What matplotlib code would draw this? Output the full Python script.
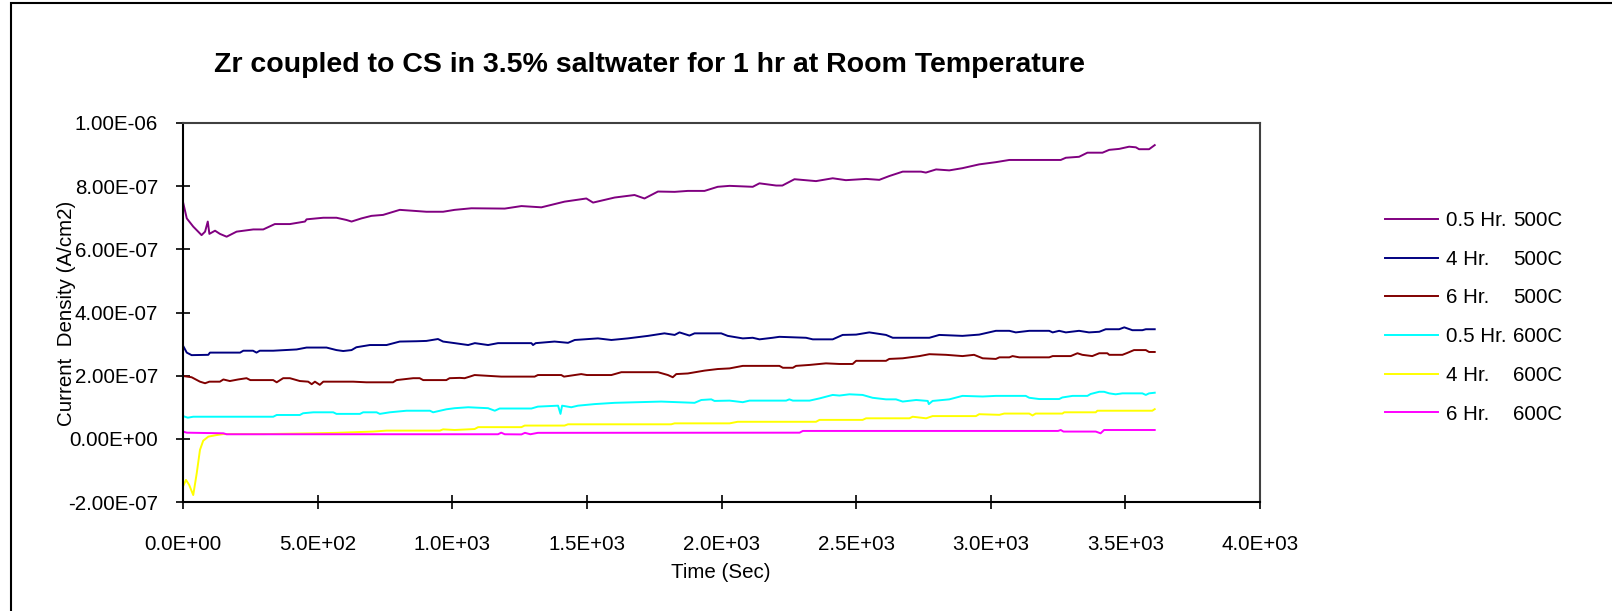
import numpy as np
import matplotlib
matplotlib.use("Agg")
import matplotlib.pyplot as plt
from matplotlib.patches import Rectangle

plt.rcParams['font.family'] = ['Liberation Sans', 'DejaVu Sans']

# current density values are given in units of 1e-7 A/cm2
t_05h_500 = [0, 14, 38, 69, 82, 92, 98, 119, 137, 162, 199, 261, 298, 341, 397, 453, 459, 521, 570, 607,
             626, 663, 700, 743, 805, 855, 904, 966, 1009, 1071, 1195, 1257, 1331, 1417, 1498, 1523, 1603,
             1677, 1714, 1764, 1826, 1875, 1937, 1986, 2030, 2116, 2141, 2203, 2226, 2271, 2351, 2413,
             2462, 2537, 2586, 2623, 2673, 2741, 2759, 2797, 2846, 2895, 2957, 3019, 3069, 3260, 3279,
             3328, 3359, 3415, 3440, 3477, 3514, 3539, 3551, 3588, 3609]
i_05h_500 = [7.50, 6.98, 6.72, 6.45, 6.56, 6.88, 6.49, 6.59, 6.49, 6.40, 6.56, 6.63, 6.63, 6.80, 6.80, 6.88,
             6.95, 7.00, 7.00, 6.93, 6.88, 6.98, 7.06, 7.09, 7.25, 7.22, 7.19, 7.19, 7.25, 7.30, 7.29, 7.37,
             7.33, 7.51, 7.61, 7.48, 7.64, 7.72, 7.61, 7.83, 7.82, 7.85, 7.85, 7.98, 8.01, 7.98, 8.09, 8.02,
             8.02, 8.22, 8.16, 8.25, 8.19, 8.23, 8.20, 8.32, 8.46, 8.46, 8.43, 8.53, 8.50, 8.57, 8.69, 8.76,
             8.83, 8.83, 8.90, 8.93, 9.06, 9.06, 9.15, 9.18, 9.25, 9.23, 9.17, 9.17, 9.30]

t_4h_500 = [0, 14, 32, 94, 100, 212, 224, 260, 273, 285, 335, 422, 459, 533, 570, 595, 626, 644, 694, 756,
            805, 867, 904, 947, 966, 1009, 1059, 1084, 1133, 1170, 1294, 1300, 1310, 1380, 1430, 1455, 1541,
            1591, 1652, 1727, 1788, 1826, 1844, 1881, 1900, 1999, 2023, 2079, 2116, 2141, 2190, 2215, 2314,
            2339, 2413, 2450, 2500, 2549, 2611, 2636, 2772, 2809, 2895, 2957, 3019, 3069, 3093, 3143, 3217,
            3230, 3254, 3279, 3328, 3365, 3403, 3427, 3477, 3496, 3526, 3563, 3576, 3609]
i_4h_500 = [2.95, 2.73, 2.65, 2.66, 2.73, 2.73, 2.79, 2.79, 2.73, 2.79, 2.79, 2.83, 2.89, 2.89, 2.81, 2.78,
            2.81, 2.90, 2.97, 2.97, 3.08, 3.09, 3.10, 3.16, 3.08, 3.03, 2.97, 3.03, 2.97, 3.03, 3.03, 2.97,
            3.03, 3.08, 3.04, 3.13, 3.18, 3.13, 3.18, 3.26, 3.34, 3.29, 3.37, 3.27, 3.34, 3.34, 3.26, 3.18,
            3.20, 3.15, 3.20, 3.23, 3.20, 3.15, 3.15, 3.29, 3.30, 3.37, 3.29, 3.20, 3.20, 3.29, 3.26, 3.30,
            3.42, 3.42, 3.37, 3.42, 3.42, 3.37, 3.42, 3.37, 3.42, 3.37, 3.39, 3.47, 3.47, 3.53, 3.44, 3.44,
            3.47, 3.47]

t_6h_500 = [0, 32, 63, 82, 98, 137, 150, 174, 205, 236, 250, 335, 348, 372, 397, 434, 465, 478, 490, 508,
            521, 632, 681, 780, 793, 855, 879, 892, 978, 990, 1028, 1046, 1065, 1083, 1182, 1306, 1318, 1405,
            1415, 1479, 1500, 1591, 1628, 1764, 1801, 1819, 1832, 1875, 1937, 1986, 2030, 2079, 2215, 2228,
            2265, 2277, 2327, 2388, 2438, 2487, 2500, 2611, 2623, 2673, 2735, 2772, 2834, 2895, 2938, 2970,
            3019, 3032, 3069, 3081, 3106, 3217, 3230, 3297, 3322, 3340, 3377, 3403, 3433, 3440, 3489, 3507,
            3532, 3576, 3588, 3609]
i_6h_500 = [1.99, 1.95, 1.81, 1.76, 1.81, 1.81, 1.88, 1.83, 1.88, 1.92, 1.86, 1.86, 1.79, 1.92, 1.92, 1.83,
            1.81, 1.73, 1.81, 1.71, 1.81, 1.81, 1.79, 1.79, 1.86, 1.92, 1.92, 1.86, 1.86, 1.92, 1.93, 1.92,
            1.97, 2.02, 1.97, 1.97, 2.02, 2.02, 1.97, 2.05, 2.02, 2.02, 2.11, 2.11, 2.02, 1.95, 2.05, 2.07,
            2.16, 2.21, 2.23, 2.31, 2.31, 2.25, 2.25, 2.31, 2.34, 2.39, 2.37, 2.37, 2.47, 2.47, 2.53, 2.55,
            2.62, 2.68, 2.66, 2.62, 2.66, 2.55, 2.53, 2.58, 2.58, 2.62, 2.58, 2.58, 2.62, 2.62, 2.71, 2.66,
            2.62, 2.71, 2.71, 2.66, 2.66, 2.72, 2.81, 2.81, 2.75, 2.75]

t_05h_600 = [0, 18, 38, 335, 348, 434, 446, 484, 558, 570, 657, 669, 719, 731, 768, 830, 917, 929, 978, 1009,
             1059, 1133, 1158, 1176, 1294, 1318, 1393, 1402, 1408, 1442, 1467, 1529, 1603, 1776, 1900, 1925,
             1962, 1974, 2030, 2079, 2104, 2240, 2252, 2265, 2327, 2364, 2413, 2438, 2475, 2524, 2561, 2611,
             2648, 2673, 2723, 2766, 2770, 2784, 2846, 2895, 2970, 3019, 3130, 3143, 3180, 3254, 3266, 3304,
             3359, 3371, 3403, 3421, 3440, 3464, 3489, 3563, 3576, 3588, 3609]
i_05h_600 = [0.72, 0.67, 0.70, 0.70, 0.755, 0.755, 0.81, 0.84, 0.84, 0.79, 0.79, 0.84, 0.84, 0.79, 0.84, 0.89,
             0.89, 0.84, 0.935, 0.97, 1.00, 0.97, 0.89, 0.96, 0.96, 1.02, 1.05, 0.79, 1.05, 1.00, 1.05, 1.10,
             1.14, 1.18, 1.14, 1.23, 1.25, 1.20, 1.21, 1.16, 1.21, 1.21, 1.25, 1.21, 1.21, 1.28, 1.39, 1.37,
             1.41, 1.39, 1.30, 1.25, 1.25, 1.18, 1.23, 1.20, 1.10, 1.20, 1.25, 1.36, 1.34, 1.36, 1.36, 1.30,
             1.26, 1.26, 1.31, 1.36, 1.36, 1.42, 1.49, 1.49, 1.44, 1.41, 1.44, 1.44, 1.39, 1.44, 1.46]

t_4h_600 = [0, 11, 23, 38, 51, 63, 75, 94, 125, 150, 300, 484, 570, 706, 756, 954, 966, 1009, 1083, 1096,
            1257, 1269, 1417, 1430, 1813, 1826, 2030, 2060, 2351, 2364, 2524, 2537, 2698, 2710, 2760, 2784,
            2945, 2957, 3032, 3050, 3143, 3155, 3167, 3266, 3273, 3390, 3396, 3600, 3609]
i_4h_600 = [-1.51, -1.30, -1.46, -1.78, -1.09, -0.35, -0.06, 0.07, 0.12, 0.15, 0.15, 0.175, 0.19, 0.23, 0.26,
            0.26, 0.30, 0.28, 0.31, 0.37, 0.37, 0.42, 0.42, 0.46, 0.46, 0.49, 0.49, 0.54, 0.54, 0.60, 0.60,
            0.65, 0.65, 0.70, 0.65, 0.72, 0.72, 0.78, 0.76, 0.80, 0.80, 0.74, 0.80, 0.80, 0.84, 0.84, 0.89,
            0.89, 0.94]

t_6h_600 = [0, 14, 150, 162, 1170, 1182, 1195, 1257, 1270, 1290, 1318, 2290, 2302, 3250, 3260, 3270, 3390,
            3408, 3421, 3609]
i_6h_600 = [0.23, 0.195, 0.175, 0.145, 0.145, 0.195, 0.145, 0.14, 0.19, 0.145, 0.19, 0.195, 0.25, 0.25,
            0.28, 0.23, 0.23, 0.175, 0.28, 0.28]

series = [
    ("0.5 Hr.", "500C", t_05h_500, i_05h_500, "#800080"),
    ("4 Hr.", "500C", t_4h_500, i_4h_500, "#000080"),
    ("6 Hr.", "500C", t_6h_500, i_6h_500, "#800000"),
    ("0.5 Hr.", "600C", t_05h_600, i_05h_600, "#00FFFF"),
    ("4 Hr.", "600C", t_4h_600, i_4h_600, "#FFFF00"),
    ("6 Hr.", "600C", t_6h_600, i_6h_600, "#FF00FF"),
]

W, H = 1612, 611
FS = 14.8
fig = plt.figure(figsize=(W / 100, H / 100), dpi=100)
ax = fig.add_axes([183 / W, 1 - 502 / H, (1260 - 183) / W, (502 - 123) / H])

for dur, temp, t, i, c in series:
    ax.plot(t, np.array(i) * 1e-7, color=c, lw=1.4, label=dur)

ax.set_xlim(0, 4000)
ax.set_ylim(-2e-7, 1e-6)
ax.set_xticks(np.arange(0, 4001, 500))
ax.set_yticks(np.arange(-2e-7, 1.01e-6, 2e-7))
ax.xaxis.set_major_formatter(matplotlib.ticker.FuncFormatter(lambda v, p: "%.1E" % v))
ax.yaxis.set_major_formatter(matplotlib.ticker.FuncFormatter(lambda v, p: "%.2E" % (0 if abs(v) < 1e-12 else v)))
ax.tick_params(direction='inout', length=10, width=1.2, labelsize=FS, colors='black')
ax.tick_params(axis='x', pad=18.5)
ax.tick_params(axis='y', pad=13)
for s in ax.spines.values():
    s.set_linewidth(1.5)
ax.spines['top'].set_color('#404040')
ax.spines['right'].set_color('#404040')

fig.text(649 / W, 1 - 65 / H, "Zr coupled to CS in 3.5% saltwater for 1 hr at Room Temperature",
         ha='center', va='center', fontsize=20.5, fontweight='bold')
fig.text(66 / W, 1 - 313 / H, "Current  Density (A/cm2)", rotation=90, ha='center', va='center', fontsize=FS)
fig.text(721 / W, 1 - 573 / H, "Time (Sec)", ha='center', va='center', fontsize=FS)

leg = ax.legend(loc='upper left', bbox_to_anchor=(1385 / W, 1 - 211 / H), bbox_transform=fig.transFigure,
                frameon=False, fontsize=FS, handlelength=2.6, handletextpad=0.35, labelspacing=0.96,
                borderaxespad=0, borderpad=0)
fig.canvas.draw()
inv = fig.transFigure.inverted()
for txt, (dur, temp, t, i, c) in zip(leg.get_texts(), series):
    bb = txt.get_window_extent()
    y = inv.transform((0, (bb.y0 + bb.y1) / 2))[1]
    fig.text(1513 / W, y, temp, ha='left', va='center', fontsize=FS)

fig.patches.append(Rectangle((11 / W, -0.1), 1.2, 1.1 - 3 / H, transform=fig.transFigure,
                             fill=False, edgecolor='black', lw=1.5))

fig.savefig("out.png", dpi=100)
